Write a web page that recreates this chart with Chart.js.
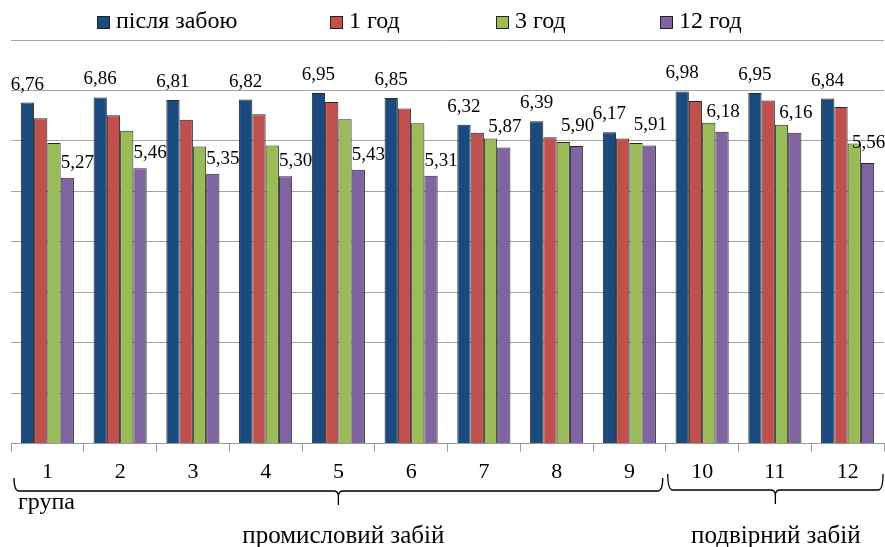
<!DOCTYPE html>
<html>
<head>
<meta charset="utf-8">
<script src="https://cdn.jsdelivr.net/npm/chart.js@4/dist/chart.umd.min.js"></script>
<style>
  html, body { margin: 0; padding: 0; background: #fff; }
  #wrap { width: 885px; height: 547px; }
</style>
</head>
<body>
<div id="wrap"><canvas id="myChart"></canvas></div>
<script>
// values
let groups = ['1', '2', '3', '4', '5', '6', '7', '8', '9', '10', '11', '12'];
let afterSlaughter = [6.76, 6.86, 6.81, 6.82, 6.95, 6.85, 6.32, 6.39, 6.17, 6.98, 6.95, 6.84];
let hour1 = [6.45, 6.51, 6.42, 6.53, 6.77, 6.64, 6.16, 6.07, 6.05, 6.79, 6.80, 6.67];
let hour3 = [5.96, 6.20, 5.89, 5.91, 6.43, 6.35, 6.05, 5.98, 5.96, 6.36, 6.32, 5.95];
let hour12 = [5.27, 5.46, 5.35, 5.30, 5.43, 5.31, 5.87, 5.90, 5.91, 6.18, 6.16, 5.56];
let seriesNames = ['після забою', '1 год', '3 год', '12 год'];
let industrialCount = 9; // groups 1-9 industrial, 10-12 household

let colors = ['#1b4a7e', '#c0504d', '#9bbb59', '#8064a2'];
let serif = '"Liberation Serif", "Times New Roman", serif';

function fmt(v) { return v.toFixed(2).replace('.', ','); }

// labels on first and last bar of every group
let valueLabels = {
    id: 'valueLabels',
    afterDatasetsDraw(chart) {
        let ctx = chart.ctx;
        ctx.save();
        ctx.font = '19px ' + serif;
        ctx.fillStyle = '#000';
        ctx.textAlign = 'center';
        ctx.textBaseline = 'middle';
        let first = chart.getDatasetMeta(0).data;
        let last = chart.getDatasetMeta(3).data;
        first.forEach((bar, i) => {
            ctx.fillText(fmt(afterSlaughter[i]), bar.x, bar.y - 18);
        });
        last.forEach((bar, i) => {
            // push label aside when the neighbouring bar is much taller
            if (hour3[i] - hour12[i] > 0.45) {
                ctx.fillText(fmt(hour12[i]), bar.x + 10, bar.y - 15);
            } else {
                ctx.fillText(fmt(hour12[i]), bar.x + 1, bar.y - 20);
            }
        });
        ctx.restore();
    }
};

// legend drawn by hand so the wide gaps can be kept
let wideLegend = {
    id: 'wideLegend',
    afterDraw(chart) {
        let ctx = chart.ctx;
        let xs = [97, 330, 496, 660];
        ctx.save();
        ctx.font = '24px ' + serif;
        ctx.textBaseline = 'middle';
        ctx.textAlign = 'left';
        chart.data.datasets.forEach((ds, i) => {
            ctx.fillStyle = ds.backgroundColor;
            ctx.fillRect(xs[i], 16, 12, 12);
            ctx.strokeStyle = '#222';
            ctx.lineWidth = 1;
            ctx.strokeRect(xs[i] + 0.5, 16.5, 12, 12);
            ctx.fillStyle = '#000';
            ctx.fillText(ds.label, xs[i] + 19, 22);
        });
        ctx.restore();
    }
};

// curly braces under the axis
function brace(ctx, x1, x2, yTop, yMid, tipY) {
    let tip = (x1 + x2) / 2;
    let r = 5;
    ctx.beginPath();
    ctx.moveTo(x1, yTop);
    ctx.quadraticCurveTo(x1, yMid, x1 + r, yMid);
    ctx.lineTo(tip - r, yMid);
    ctx.quadraticCurveTo(tip, yMid, tip, yMid + r);
    ctx.lineTo(tip, tipY);
    ctx.moveTo(tip, yMid + r);
    ctx.quadraticCurveTo(tip, yMid, tip + r, yMid);
    ctx.lineTo(x2 - r, yMid);
    ctx.quadraticCurveTo(x2, yMid, x2, yTop);
    ctx.stroke();
}

let groupBraces = {
    id: 'groupBraces',
    afterDraw(chart) {
        let ctx = chart.ctx;
        let area = chart.chartArea;
        let x = chart.scales.x;
        let step = x.getPixelForValue(1) - x.getPixelForValue(0);
        let split = x.getPixelForValue(industrialCount - 1) + step / 2;
        ctx.save();
        ctx.strokeStyle = '#000';
        ctx.lineWidth = 1.3;
        brace(ctx, area.left + 3, split - 3, 478, 491, 505);
        brace(ctx, split + 2, area.right - 1, 474, 490, 504);
        ctx.fillStyle = '#000';
        ctx.textBaseline = 'middle';
        ctx.textAlign = 'left';
        ctx.font = '24px ' + serif;
        ctx.fillText('група', area.left + 7, 503);
        ctx.font = '25px ' + serif;
        ctx.textAlign = 'center';
        ctx.fillText('промисловий забій', (area.left + split) / 2 + 5, 536);
        ctx.fillText('подвірний забій', (split + area.right) / 2 + 1, 536);
        ctx.restore();
    }
};

let datasets = [afterSlaughter, hour1, hour3, hour12].map((vals, i) => ({
    label: seriesNames[i],
    data: vals,
    backgroundColor: colors[i],
    borderColor: '#262626',
    borderWidth: 1,
    categoryPercentage: 0.73,
    barPercentage: 1
}));

var ctx = document.getElementById('myChart').getContext('2d');
var barChart = new Chart(ctx, {
    type: 'bar',
    data: {
        labels: groups,
        datasets: datasets
    },
    plugins: [valueLabels, wideLegend, groupBraces],
    options: {
        responsive: true,
        maintainAspectRatio: false,
        animation: false,
        layout: { padding: { left: 11, right: 1, top: 40, bottom: 55 } },
        plugins: {
            legend: { display: false },
            tooltip: { enabled: false }
        },
        scales: {
            x: {
                grid: {
                    offset: true,
                    drawOnChartArea: false,
                    color: '#9a9a9a',
                    tickLength: 8
                },
                border: { color: '#9a9a9a' },
                ticks: {
                    color: '#000',
                    padding: 7,
                    font: { family: serif, size: 22 }
                }
            },
            y: {
                min: 0,
                max: 8,
                ticks: { display: false, stepSize: 1 },
                grid: { color: '#a3a3a3', drawTicks: false },
                border: { display: false }
            }
        }
    }
});
</script>
</body>
</html>
